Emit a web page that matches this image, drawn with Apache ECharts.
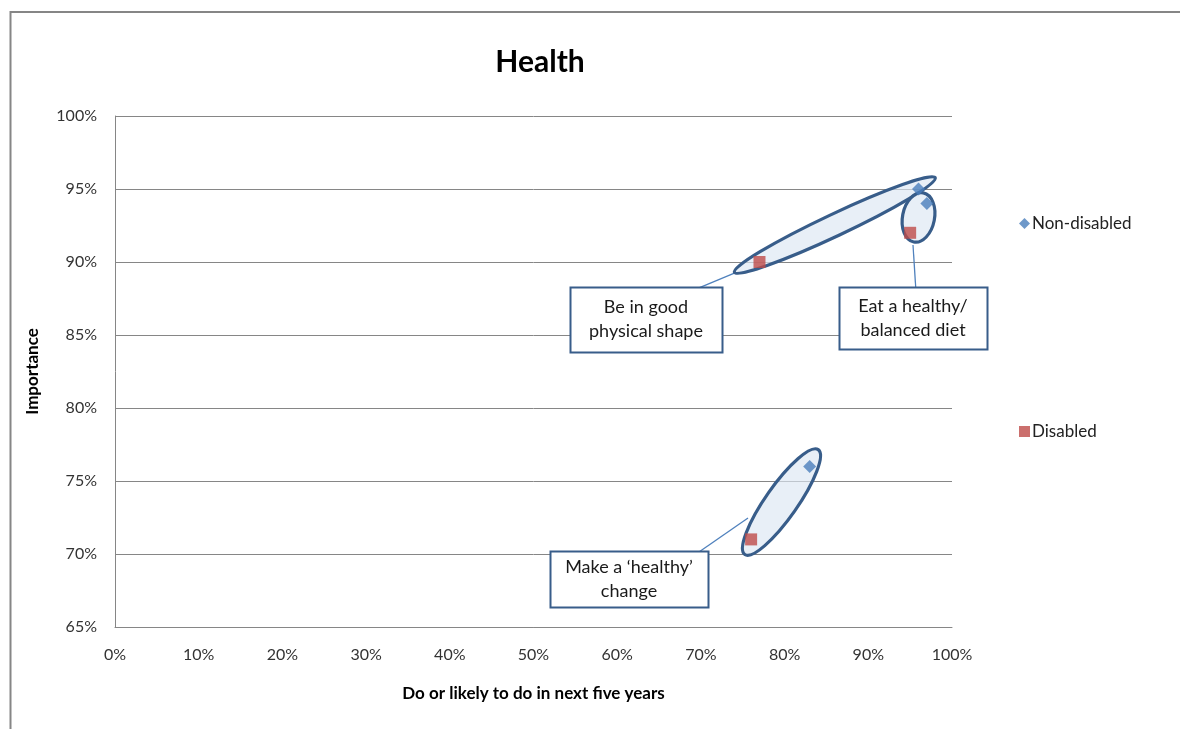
<!DOCTYPE html>
<html>
<head>
<meta charset="utf-8">
<title>Health</title>
<script src="https://cdn.jsdelivr.net/npm/echarts@6/dist/echarts.min.js"></script>
<style>
  html, body { margin: 0; padding: 0; background: #fff; }
  #chart { width: 1180px; height: 729px; }
</style>
</head>
<body>
<div id="chart"></div>
<script>
// Share who does (or is likely to do) each health activity vs. how important it is
var activities = ['Be in good physical shape', 'Eat a healthy/ balanced diet', 'Make a \u2018healthy\u2019 change'];
var nonDisabledDo = [96, 97, 83];
var nonDisabledImportance = [95, 94, 76];
var disabledDo = [77, 95, 76];
var disabledImportance = [90, 92, 71];

var xTicks = [0, 10, 20, 30, 40, 50, 60, 70, 80, 90, 100];
var yTicks = [65, 70, 75, 80, 85, 90, 95, 100];

// Callout annotations, in axis units: ring centre, box centre, leader start, leader end
var calloutText = ['Be in good\nphysical shape', 'Eat a healthy/\nbalanced diet', 'Make a \u2018healthy\u2019\nchange'];
var ringCentre = [[86.0, 92.53], [96.0, 93.05], [79.63, 73.56]];
var boxCentre = [[63.44, 86.06], [95.34, 86.16], [61.41, 68.29]];
var leaderFrom = [[68.34, 87.88], [95.70, 87.95], [69.77, 70.14]];
var leaderTo = [[74.07, 89.25], [95.34, 91.16], [75.63, 72.47]];

// Drawing sizes for each callout (pixels / degrees)
var ringShape = [
  { rx: 111, ry: 11, rot: 25.2 },
  { rx: 16, ry: 25, rot: -11 },
  { rx: 64, ry: 16, rot: 55 }
];
var boxSize = [[152, 65], [148, 62], [158, 56]];

function pairs(xs, ys) { return xs.map(function (x, i) { return [x, ys[i]]; }); }

var calloutRows = activities.map(function (name, i) {
  return [ringCentre[i][0], ringCentre[i][1], boxCentre[i][0], boxCentre[i][1],
          leaderFrom[i][0], leaderFrom[i][1], leaderTo[i][0], leaderTo[i][1]];
});

var FONT = 'Lato, "Open Sans", sans-serif';
var RING = '#385d8a';

function renderCallout(params, api) {
  var i = params.dataIndex;
  var c = api.coord([api.value(0), api.value(1)]);
  var b = api.coord([api.value(2), api.value(3)]);
  var p1 = api.coord([api.value(4), api.value(5)]);
  var p2 = api.coord([api.value(6), api.value(7)]);
  var s = ringShape[i];
  var w = boxSize[i][0], h = boxSize[i][1];
  return {
    type: 'group',
    children: [
      {
        type: 'line',
        shape: { x1: p1[0], y1: p1[1], x2: p2[0], y2: p2[1] },
        style: { stroke: '#4f81bd', lineWidth: 1.3 },
        z2: 1
      },
      {
        type: 'ellipse',
        x: c[0], y: c[1],
        rotation: s.rot * Math.PI / 180,
        shape: { cx: 0, cy: 0, rx: s.rx, ry: s.ry },
        style: { fill: 'rgba(220,230,242,0.65)', stroke: RING, lineWidth: 3.2 },
        z2: 2
      },
      {
        type: 'rect',
        shape: { x: Math.round(b[0] - w / 2) + 0.5, y: Math.round(b[1] - h / 2) + 0.5, width: w, height: h },
        style: { fill: '#fff', stroke: RING, lineWidth: 2 },
        z2: 3
      },
      {
        type: 'text',
        x: b[0], y: b[1],
        style: {
          text: calloutText[i],
          align: 'center', verticalAlign: 'middle',
          fontSize: 18, fontFamily: FONT, lineHeight: 24,
          fill: '#1a1a1a'
        },
        z2: 4
      }
    ]
  };
}

var chart = echarts.init(document.getElementById('chart'), null, { renderer: 'canvas' });

chart.setOption({
  animation: false,
  backgroundColor: '#fff',
  textStyle: { fontFamily: FONT },
  graphic: [
    {
      type: 'rect',
      shape: { x: 10.5, y: 12, width: 1300, height: 800 },
      style: { fill: 'none', stroke: '#868686', lineWidth: 2 },
      silent: true,
      z: -10
    }
  ],
  title: {
    text: 'Health',
    left: 535, top: 42,
    textAlign: 'center',
    textStyle: { fontSize: 30, fontWeight: 'bold', color: '#000', fontFamily: FONT }
  },
  legend: [
    {
      data: [{ name: 'Non-disabled', icon: 'diamond' }],
      left: 1014, top: 210,
      itemWidth: 11, itemHeight: 11, itemGap: 4,
      textStyle: { fontSize: 17, color: '#222', fontFamily: FONT, padding: [0, 0, 0, -3] }
    },
    {
      data: [{ name: 'Disabled', icon: 'rect' }],
      left: 1014, top: 418,
      itemWidth: 11, itemHeight: 11, itemGap: 4,
      textStyle: { fontSize: 17, color: '#222', fontFamily: FONT, padding: [0, 0, 0, -3] }
    }
  ],
  grid: { left: 115, right: 228, top: 116, bottom: 102, containLabel: false },
  xAxis: {
    type: 'value',
    min: xTicks[0], max: xTicks[xTicks.length - 1], interval: 10,
    name: 'Do or likely to do in next five years',
    nameLocation: 'middle', nameGap: 58,
    nameTextStyle: { fontSize: 17, fontWeight: 'bold', color: '#000', fontFamily: FONT },
    axisLine: { show: true, lineStyle: { color: '#868686', width: 1 } },
    axisTick: { show: false },
    splitLine: { show: false },
    axisLabel: { formatter: '{value}%', fontSize: 16, color: '#333', margin: 20, fontFamily: FONT }
  },
  yAxis: {
    type: 'value',
    min: yTicks[0], max: yTicks[yTicks.length - 1], interval: 5,
    name: 'Importance',
    nameLocation: 'middle', nameGap: 74, nameRotate: 90,
    nameTextStyle: { fontSize: 17, fontWeight: 'bold', color: '#000', fontFamily: FONT },
    axisLine: { show: true, lineStyle: { color: '#868686', width: 1 } },
    axisTick: { show: false },
    splitLine: { show: true, lineStyle: { color: '#868686', width: 1 } },
    axisLabel: { formatter: '{value}%', fontSize: 16, color: '#333', margin: 18, fontFamily: FONT }
  },
  series: [
    {
      name: 'callouts',
      type: 'custom',
      renderItem: renderCallout,
      data: calloutRows,
      encode: { x: 0, y: 1 },
      clip: false,
      silent: true,
      z: 1
    },
    {
      name: 'Non-disabled',
      type: 'scatter',
      symbol: 'diamond',
      symbolSize: 13,
      itemStyle: { color: '#4a7ebb' },
      data: pairs(nonDisabledDo, nonDisabledImportance),
      z: 5
    },
    {
      name: 'Disabled',
      type: 'scatter',
      symbol: 'rect',
      symbolSize: 12,
      itemStyle: { color: '#be4b48' },
      data: pairs(disabledDo, disabledImportance),
      z: 5
    }
  ]
});
</script>
</body>
</html>
